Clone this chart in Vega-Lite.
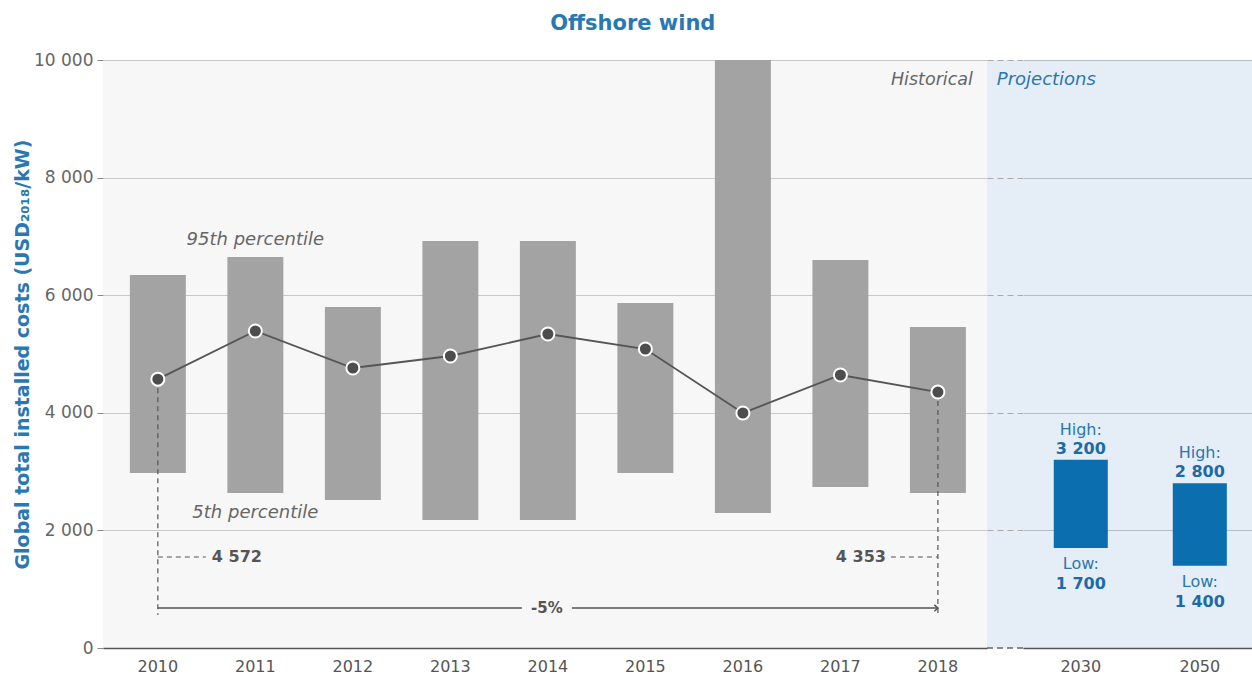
{
  "$schema": "https://vega.github.io/schema/vega-lite/v6.json",
  "padding": {"left": 13, "top": 13, "right": 0, "bottom": 0},
  "config": {
    "view": {"stroke": null},
    "font": "DejaVu Sans",
    "locale": {"number": {"decimal": ".", "thousands": " ", "grouping": [3], "currency": ["", ""]}},
    "text": {"font": "DejaVu Sans", "fontSize": 17}
  },
  "title": {"text": "Offshore wind", "font": "DejaVu Sans", "fontSize": 21, "fontWeight": "bold", "color": "#2a78b2", "anchor": "middle", "offset": 17},
  "datasets": {
    "hist": [
      {"year": "2010", "p5": 2976, "p95": 6343, "avg": 4572},
      {"year": "2011", "p5": 2636, "p95": 6650, "avg": 5391},
      {"year": "2012", "p5": 2517, "p95": 5799, "avg": 4762},
      {"year": "2013", "p5": 2177, "p95": 6922, "avg": 4966},
      {"year": "2014", "p5": 2177, "p95": 6922, "avg": 5340},
      {"year": "2015", "p5": 2976, "p95": 5867, "avg": 5085},
      {"year": "2016", "p5": 2296, "p95": 10000, "avg": 3997},
      {"year": "2017", "p5": 2738, "p95": 6599, "avg": 4643},
      {"year": "2018", "p5": 2636, "p95": 5459, "avg": 4353}
    ],
    "proj": [
      {"year": "2030", "low": 1700, "high": 3200},
      {"year": "2050", "low": 1400, "high": 2800}
    ]
  },
  "spacing": 0,
  "bounds": "flush",
  "hconcat": [
    {
      "width": 884,
      "height": 588,
      "view": {"fill": "#f7f7f7", "stroke": null},
      "encoding": {
        "x": {
          "field": "year", "type": "ordinal",
          "scale": {"domain": ["2010","2011","2012","2013","2014","2015","2016","2017","2018"], "paddingInner": 0.426, "paddingOuter": 0.246, "align": 0.56},
          "axis": {"title": null, "labelAngle": 0, "ticks": false, "domainColor": "#555", "domainWidth": 1.5, "labelPadding": 10, "labelFontSize": 16, "labelColor": "#555", "labelFont": "DejaVu Sans"}
        }
      },
      "layer": [
        {
          "data": {"name": "hist"},
          "mark": {"type": "bar", "color": "#a3a3a3"},
          "encoding": {
            "y": {
              "field": "p5", "type": "quantitative",
              "scale": {"domain": [0, 10000], "nice": false},
              "axis": {"title": "Global total installed costs (USD₂₀₁₈/kW)", "titleFont": "DejaVu Sans", "titleFontSize": 19, "titleFontWeight": "bold", "titleColor": "#2a78b2", "titlePadding": 1, "values": [0, 2000, 4000, 6000, 8000, 10000], "format": ",d", "labelFontSize": 17, "labelColor": "#666", "labelFont": "DejaVu Sans", "ticks": true, "tickSize": 6, "tickColor": "#888", "labelPadding": 4, "domain": false, "grid": true, "gridColor": "#c8c8c8"}
            },
            "y2": {"field": "p95"}
          }
        },
        {
          "data": {"name": "hist"},
          "mark": {"type": "line", "color": "#555", "strokeWidth": 1.8},
          "encoding": {"y": {"field": "avg", "type": "quantitative"}}
        },
        {
          "data": {"values": [{"year": "2010", "y1": 4572, "y2": 560}, {"year": "2018", "y1": 4353, "y2": 560}]},
          "mark": {"type": "rule", "color": "#555", "strokeDash": [5, 4], "strokeWidth": 1.2},
          "encoding": {"y": {"field": "y1", "type": "quantitative"}, "y2": {"field": "y2"}}
        },
        {
          "data": {"name": "hist"},
          "mark": {"type": "point", "filled": true, "fill": "#4d4d4d", "stroke": "#ffffff", "strokeWidth": 2, "size": 170, "opacity": 1},
          "encoding": {"y": {"field": "avg", "type": "quantitative"}}
        },
        {
          "data": {"values": [{"year": "2010", "v": 1548}]},
          "mark": {"type": "rule", "color": "#555", "strokeDash": [5, 4], "strokeWidth": 1.2, "x2Offset": 48},
          "encoding": {"y": {"field": "v", "type": "quantitative"}, "x2": {"field": "year"}}
        },
        {
          "data": {"values": [{"year": "2018", "v": 1548}]},
          "mark": {"type": "rule", "color": "#555", "strokeDash": [5, 4], "strokeWidth": 1.2, "xOffset": -47},
          "encoding": {"y": {"field": "v", "type": "quantitative"}, "x2": {"field": "year"}}
        },
        {
          "data": {"values": [{"year": "2010", "end": "2014", "v": 680}]},
          "mark": {"type": "rule", "color": "#555", "strokeWidth": 1.5, "x2Offset": -26},
          "encoding": {"y": {"field": "v", "type": "quantitative"}, "x2": {"field": "end"}}
        },
        {
          "data": {"values": [{"year": "2014", "end": "2018", "v": 680}]},
          "mark": {"type": "rule", "color": "#555", "strokeWidth": 1.5, "xOffset": 24},
          "encoding": {"y": {"field": "v", "type": "quantitative"}, "x2": {"field": "end"}}
        },
        {
          "data": {"values": [{"year": "2018", "v": 680}]},
          "mark": {"type": "point", "shape": "M -1 -0.9 L 0 0 L -1 0.9", "filled": false, "stroke": "#555", "strokeWidth": 1.5, "size": 50, "opacity": 1},
          "encoding": {"y": {"field": "v", "type": "quantitative"}}
        },
        {
          "data": {"values": [{"year": "2011", "v": 6939, "label": "95th percentile"}, {"year": "2011", "v": 2296, "label": "5th percentile"}]},
          "mark": {"type": "text", "fontStyle": "italic", "fontSize": 18, "color": "#666", "align": "center", "baseline": "middle"},
          "encoding": {"y": {"field": "v", "type": "quantitative"}, "text": {"field": "label"}}
        },
        {
          "data": {"values": [{"year": "2018", "v": 9660, "label": "Historical"}]},
          "mark": {"type": "text", "fontStyle": "italic", "fontSize": 17.5, "color": "#666", "align": "right", "baseline": "middle", "dx": 35},
          "encoding": {"y": {"field": "v", "type": "quantitative"}, "text": {"field": "label"}}
        },
        {
          "data": {"values": [{"year": "2010", "v": 1548, "label": "4 572"}]},
          "mark": {"type": "text", "fontWeight": "bold", "fontSize": 16, "color": "#555", "align": "left", "baseline": "middle", "dx": 54},
          "encoding": {"y": {"field": "v", "type": "quantitative"}, "text": {"field": "label"}}
        },
        {
          "data": {"values": [{"year": "2018", "v": 1548, "label": "4 353"}]},
          "mark": {"type": "text", "fontWeight": "bold", "fontSize": 16, "color": "#555", "align": "right", "baseline": "middle", "dx": -52},
          "encoding": {"y": {"field": "v", "type": "quantitative"}, "text": {"field": "label"}}
        },
        {
          "data": {"values": [{"year": "2014", "v": 680, "label": "-5%"}]},
          "mark": {"type": "text", "fontWeight": "bold", "fontSize": 15, "color": "#555", "align": "center", "baseline": "middle", "dx": -1},
          "encoding": {"y": {"field": "v", "type": "quantitative"}, "text": {"field": "label"}}
        }
      ]
    },
    {
      "width": 36,
      "height": 588,
      "view": {"fill": "#e5eef7", "stroke": null},
      "data": {"values": [{"v": 0}]},
      "mark": {"type": "rule", "color": "#666", "strokeDash": [6, 4], "strokeWidth": 1.5},
      "encoding": {
        "y": {"field": "v", "type": "quantitative", "scale": {"domain": [0, 10000], "nice": false},
          "axis": {"title": null, "labels": false, "ticks": false, "domain": false, "grid": true, "gridDash": [6, 4], "gridColor": "#aaa", "values": [2000, 4000, 6000, 8000, 10000]}}
      }
    },
    {
      "width": 229,
      "height": 588,
      "view": {"fill": "#e5eef7", "stroke": null},
      "encoding": {
        "x": {
          "field": "year", "type": "ordinal",
          "scale": {"domain": ["2030", "2050"], "paddingInner": 0.546, "paddingOuter": 0.235, "align": 0.55},
          "axis": {"title": null, "labelAngle": 0, "ticks": false, "domainColor": "#555", "domainWidth": 1.5, "labelPadding": 10, "labelFontSize": 16, "labelColor": "#555", "labelFont": "DejaVu Sans"}
        }
      },
      "layer": [
        {
          "data": {"name": "proj"},
          "mark": {"type": "bar", "color": "#0a6eaf"},
          "encoding": {
            "y": {"field": "low", "type": "quantitative", "scale": {"domain": [0, 10000], "nice": false},
              "axis": {"title": null, "labels": false, "ticks": false, "domain": false, "grid": true, "gridColor": "#b4bcc6", "values": [0, 2000, 4000, 6000, 8000, 10000]}},
            "y2": {"field": "high"}
          }
        },
        {
          "data": {"name": "proj"},
          "mark": {"type": "text", "fontSize": 16, "color": "#2b76b0", "align": "center", "baseline": "alphabetic", "dy": -25},
          "encoding": {"y": {"field": "high", "type": "quantitative"}, "text": {"value": "High:"}}
        },
        {
          "data": {"name": "proj"},
          "mark": {"type": "text", "fontSize": 16, "fontWeight": "bold", "color": "#1d6aa6", "align": "center", "baseline": "alphabetic", "dy": -6},
          "encoding": {"y": {"field": "high", "type": "quantitative"}, "text": {"field": "high", "type": "quantitative", "format": ",d"}}
        },
        {
          "data": {"name": "proj"},
          "mark": {"type": "text", "fontSize": 16, "color": "#2b76b0", "align": "center", "baseline": "alphabetic", "dy": 21},
          "encoding": {"y": {"field": "low", "type": "quantitative"}, "text": {"value": "Low:"}}
        },
        {
          "data": {"name": "proj"},
          "mark": {"type": "text", "fontSize": 16, "fontWeight": "bold", "color": "#1d6aa6", "align": "center", "baseline": "alphabetic", "dy": 41},
          "encoding": {"y": {"field": "low", "type": "quantitative"}, "text": {"field": "low", "type": "quantitative", "format": ",d"}}
        },
        {
          "data": {"values": [{"year": "2030", "v": 9660, "label": "Projections"}]},
          "mark": {"type": "text", "fontStyle": "italic", "fontSize": 18, "color": "#2b76b0", "align": "left", "baseline": "middle", "dx": -84},
          "encoding": {"y": {"field": "v", "type": "quantitative"}, "text": {"field": "label"}}
        }
      ]
    }
  ]
}
